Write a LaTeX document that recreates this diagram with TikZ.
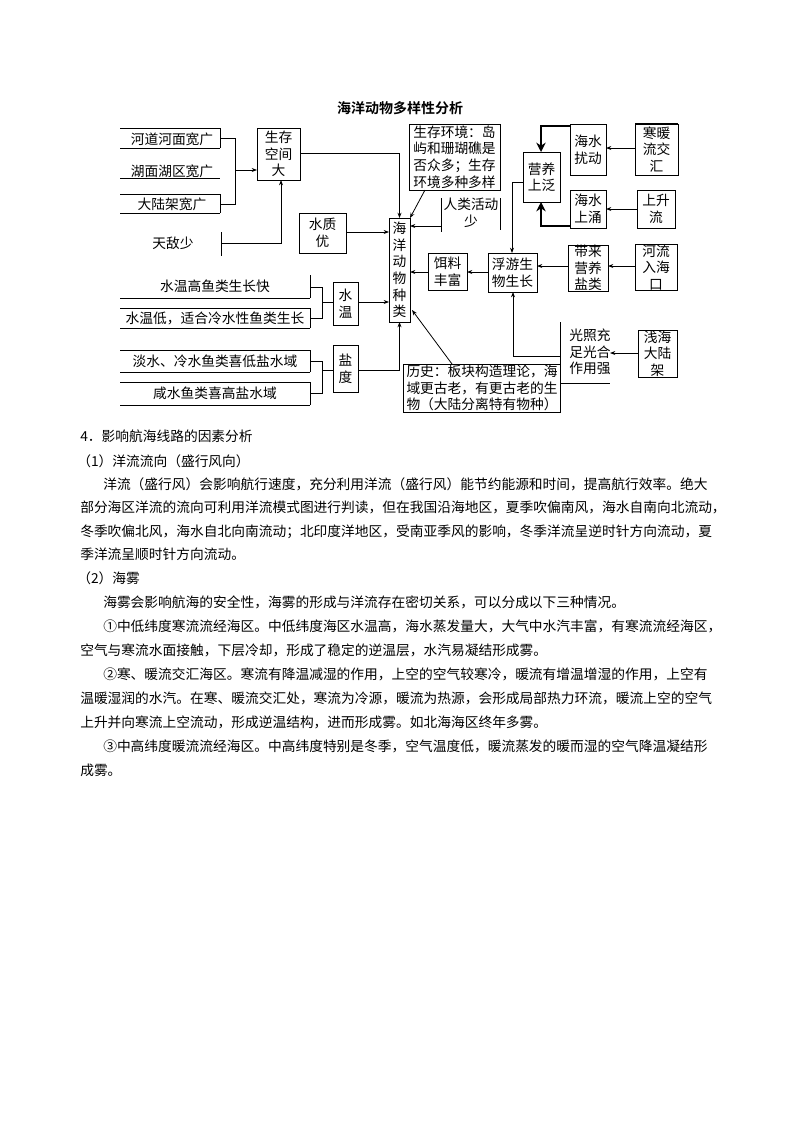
\documentclass[tikz,border=0pt]{standalone}
\usepackage{fontspec}
\setmainfont{Noto Sans CJK SC}
\newfontfamily\cjkb{Noto Sans CJK SC Bold}
\usetikzlibrary{arrows.meta}
\tikzset{x=0.75pt,y=-0.75pt,
 bx/.style={draw,line width=0.6pt,inner sep=0pt,outer sep=0pt,align=center,font=\fontsize{10.3}{12.5}\selectfont},
 tx/.style={inner sep=0pt,align=center,font=\fontsize{10.3}{12.5}\selectfont},
 ln/.style={line width=0.6pt},
 ar/.style={line width=0.6pt,-{Stealth[length=4pt,width=3pt]}},
 thk/.style={line width=2pt,-{Stealth[length=7pt,width=7pt]}},
 para/.style={anchor=base west,inner sep=0pt,font=\fontsize{10.3}{12}\selectfont}}
\newcommand\bx[6]{\node[bx,minimum width={(#4-#2)*0.75pt},minimum height={(#5-#3)*0.75pt}] (#1) at ({(#2+#4)/2},{(#3+#5)/2}) {#6};}
\begin{document}
\begin{tikzpicture}
\useasboundingbox[fill=white] (0,0) rectangle (800,1132);
\node[tx,font=\cjkb\fontsize{10.5}{12}\selectfont] (title) at (400,108) {海洋动物多样性分析};
% left items
\foreach \y in {128,148,178,194,213} \draw[ln] (120,\y)--(220,\y);
\node[tx] (i1) at (172,139) {河道河面宽广};
\node[tx] (i2) at (172,171) {湖面湖区宽广};
\node[tx] (i3) at (172,204) {大陆架宽广};
\draw[ln] (220,128)--(220,148) (220,194)--(220,213);
\draw[ln] (220,138)--(235,138)--(235,204)--(220,204);
\bx{ss}{257}{128}{300}{180}{生存\\空间\\大}
\draw[ar] (235,170)--(ss.west|-0,170);
\node[tx] (td) at (173,243) {天敌少};
\draw[ln] (221,232)--(221,256);
\coordinate (tdc) at (221,243);
\draw[ar] (tdc)-|(ss.south-|281,0);
\bx{hy}{389}{218}{410}{322}{海\\洋\\动\\物\\种\\类}
\draw[ar] (ss.east|-0,153)-|(hy.north);
\bx{sz}{299}{213}{346}{253}{水质\\优}
\draw[ar] (sz.east|-0,232)--(hy.west|-0,232);
% water temperature
\foreach \y in {298,308,328} \draw[ln] (120,\y)--(310,\y);
\draw[ln] (310,275)--(310,298) (310,308)--(310,328);
\node[tx] (w1) at (215,286) {水温高鱼类生长快};
\node[tx] (w2) at (215,318) {水温低，适合冷水性鱼类生长};
\draw[ln] (310,287)--(322,287)--(322,318)--(310,318);
\bx{sw}{333}{282}{358}{325}{水\\温}
\draw[ln] (322,302)--(sw.west|-0,302);
\draw[ar] (sw.east|-0,302)--(hy.west|-0,302);
% salinity
\foreach \y in {350,372,382,405} \draw[ln] (120,\y)--(310,\y);
\draw[ln] (310,350)--(310,372) (310,382)--(310,405);
\node[tx] (s1) at (215,361) {淡水、冷水鱼类喜低盐水域};
\node[tx] (s2) at (215,393) {咸水鱼类喜高盐水域};
\draw[ln] (310,361)--(322,361)--(322,393)--(310,393);
\bx{yd}{333}{345}{358}{392}{盐\\度}
\draw[ln] (322,370)--(yd.west|-0,370);
\draw[ar] (yd.east|-0,370)-|(hy.south);
% right side
\bx{hj}{409}{124}{500}{190}{生存环境：岛\\屿和珊瑚礁是\\否众多；生存\\环境多种多样}
\draw[ar] (hj.south-|425,0)--(hy.north east);
\node[tx] (rl) at (471,213) {人类活动\\少};
\draw[ln] (441,198)--(441,232) (500,198)--(500,230);
\coordinate (rlc) at (441,226);
\draw[ar] (rlc)--(hy.east|-0,226);
\bx{yy}{523}{152}{560}{202}{营养\\上泛}
\bx{rd}{570}{124}{606}{175}{海水\\扰动}
\bx{hn}{635}{124}{678}{175}{寒暖\\流交\\汇}
\draw[line width=1.6pt] (635,124)--(678,124);
\draw[ar] (hn.west|-0,148)--(rd.east|-0,148);
\bx{yo}{570}{190}{606}{228}{海水\\上涌}
\bx{sl}{637}{190}{675}{228}{上升\\流}
\draw[ar] (sl.west|-0,209)--(yo.east|-0,209);
\draw[thk] (rd.west|-0,126)-|(yy.north-|541,0);
\draw[thk] (yo.west|-0,226)-|(yy.south-|541,0);
\bx{fy}{488}{253}{537}{292}{浮游生\\物生长}
\draw[ar] (yy.west|-0,182)-|(fy.north-|512,0);
\bx{el}{428}{253}{467}{290}{饵料\\丰富}
\draw[ar] (fy.west|-0,272)--(el.east|-0,272);
\draw[ar] (el.west|-0,272)--(hy.east|-0,272);
\bx{dl}{568}{245}{608}{291}{带来\\营养\\盐类}
\draw[ar] (dl.west|-0,266)--(fy.east|-0,266);
\bx{hl}{635}{245}{677}{290}{河流\\入海\\口}
\draw[ar] (hl.west|-0,266)--(dl.east|-0,266);
\node[tx] (gz) at (590,352) {光照充\\足光合\\作用强};
\draw[ln] (560,322)--(560,383)--(610,383);
\draw[ar] (560,356)-|(fy.south-|513,0);
\bx{qh}{638}{330}{677}{377}{浅海\\大陆\\架}
\draw[ar] (qh.west|-0,353)--(610,353);
\node[bx,align=left,minimum width={157*0.75pt},minimum height={48*0.75pt},text width={150*0.75pt}] (ls) at (481.5,388) {历史：板块构造理论，海\\域更古老，有更古老的生\\物（大陆分离特有物种）};
\draw[ar] (ls.north-|452,0)--(412,310);
% text
\node[para] (p1) at (80,441) {4．影响航海线路的因素分析};
\node[para] (p2) at (77,466) {（1）洋流流向（盛行风向）};
\node[para] (p3) at (103,489) {洋流（盛行风）会影响航行速度，充分利用洋流（盛行风）能节约能源和时间，提高航行效率。绝大};
\node[para] (p4) at (80,512) {部分海区洋流的流向可利用洋流模式图进行判读，但在我国沿海地区，夏季吹偏南风，海水自南向北流动，};
\node[para] (p5) at (80,536) {冬季吹偏北风，海水自北向南流动；北印度洋地区，受南亚季风的影响，冬季洋流呈逆时针方向流动，夏};
\node[para] (p6) at (80,559) {季洋流呈顺时针方向流动。};
\node[para] (p7) at (77,583) {（2）海雾};
\node[para] (p8) at (103,607) {海雾会影响航海的安全性，海雾的形成与洋流存在密切关系，可以分成以下三种情况。};
\node[para] (p9) at (103,631) {①中低纬度寒流流经海区。中低纬度海区水温高，海水蒸发量大，大气中水汽丰富，有寒流流经海区，};
\node[para] (p10) at (80,655) {空气与寒流水面接触，下层冷却，形成了稳定的逆温层，水汽易凝结形成雾。};
\node[para] (p11) at (103,679) {②寒、暖流交汇海区。寒流有降温减湿的作用，上空的空气较寒冷，暖流有增温增湿的作用，上空有};
\node[para] (p12) at (80,703) {温暖湿润的水汽。在寒、暖流交汇处，寒流为冷源，暖流为热源，会形成局部热力环流，暖流上空的空气};
\node[para] (p13) at (80,727) {上升并向寒流上空流动，形成逆温结构，进而形成雾。如北海海区终年多雾。};
\node[para] (p14) at (103,751) {③中高纬度暖流流经海区。中高纬度特别是冬季，空气温度低，暖流蒸发的暖而湿的空气降温凝结形};
\node[para] (p15) at (80,775) {成雾。};
\end{tikzpicture}
\end{document}
